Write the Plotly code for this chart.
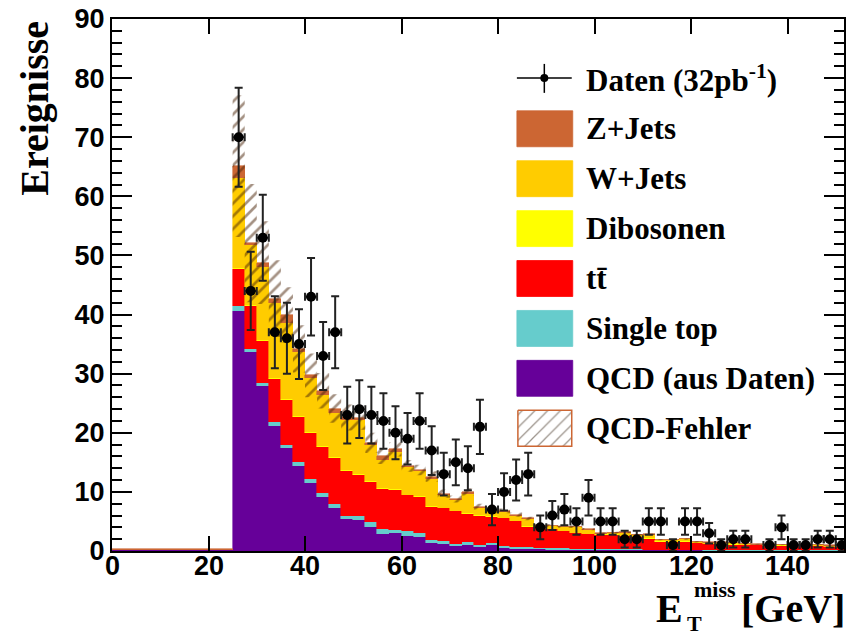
import numpy as np
import plotly.graph_objects as go

# ---------------- data ----------------
bin_width = 2.5
bin_edges = [0, 2.5, 5, 7.5, 10, 12.5, 15, 17.5, 20, 22.5,
             25, 27.5, 30, 32.5, 35, 37.5, 40, 42.5, 45, 47.5,
             50, 52.5, 55, 57.5, 60, 62.5, 65, 67.5, 70, 72.5,
             75, 77.5, 80, 82.5, 85, 87.5, 90, 92.5, 95, 97.5,
             100, 102.5, 105, 107.5, 110, 112.5, 115, 117.5, 120, 122.5,
             125, 127.5, 130, 132.5, 135, 137.5, 140, 142.5, 145, 147.5,
             150]
x_tick_values = [0, 20, 40, 60, 80, 100, 120, 140]

qcd = [0.15, 0.15, 0.15, 0.15, 0.15, 0.15, 0.15, 0.15, 0.15, 0.15,
       40.6, 33.7, 27.9, 21.2, 17.4, 14.4, 11.5, 9.1, 7.2, 5.4,
       5.3, 4.1, 2.9, 3.0, 2.6, 2.4, 1.35, 1.2, 0.85, 1.05,
       0.75, 0.95, 0.5, 0.35, 0.3, 0.3, 0.25, 0.25, 0.2, 0.2,
       0.2, 0.15, 0.15, 0.15, 0.12, 0.12, 0.1, 0.1, 0.1, 0.08,
       0.08, 0.08, 0.07, 0.07, 0.06, 0.06, 0.05, 0.05, 0.05, 0.04,
       0.04]
single_top = [0, 0, 0, 0, 0, 0, 0, 0, 0, 0,
              0.8, 0.5, 0.6, 0.6, 0.6, 0.6, 0.7, 0.7, 0.7, 0.6,
              0.6, 0.85, 0.8, 0.6, 0.7, 0.6, 0.5, 0.45, 0.35, 0.4,
              0.35, 0.35, 0.35, 0.35, 0.3, 0.25, 0.25, 0.2, 0.2, 0.2,
              0.15, 0.15, 0.15, 0.15, 0.13, 0.13, 0.12, 0.1, 0.1, 0.1,
              0.1, 0.08, 0.08, 0.07, 0.07, 0.06, 0.07, 0.06, 0.05, 0.06,
              0.05]
ttbar = [0, 0, 0, 0, 0, 0, 0, 0, 0, 0,
         6.35, 7.2, 7.0, 7.25, 7.5, 7.6, 7.8, 7.8, 7.8, 7.5,
         7.0, 6.75, 6.8, 6.7, 6.1, 6.1, 5.55, 5.55, 5.5, 4.85,
         4.8, 4.5, 4.65, 4.3, 3.5, 3.45, 3.2, 2.85, 2.6, 2.4,
         2.35, 2.4, 2.2, 2.0, 1.85, 1.35, 1.38, 1.4, 1.1, 1.02,
         1.02, 0.94, 0.85, 0.86, 0.77, 0.78, 0.68, 0.69, 0.7, 0.6,
         0.61]
dibosons = [0, 0, 0, 0, 0, 0, 0, 0, 0, 0,
            0.2, 0.2, 0.2, 0.2, 0.2, 0.2, 0.2, 0.2, 0.2, 0.2,
            0.2, 0.15, 0.15, 0.15, 0.15, 0.15, 0.15, 0.15, 0.15, 0.15,
            0.15, 0.1, 0.1, 0.1, 0.1, 0.1, 0.1, 0.1, 0.1, 0.1,
            0.1, 0.1, 0.1, 0.1, 0.1, 0.1, 0.05, 0.05, 0.05, 0.05,
            0.05, 0.05, 0.05, 0.05, 0.05, 0.05, 0.05, 0.05, 0.05, 0.05,
            0.05]
wjets = [0, 0, 0, 0, 0, 0, 0, 0, 0, 0,
         15.15, 10.1, 12.4, 12.75, 12.9, 10.9, 9.1, 8.6, 7.5, 8.4,
         9.0, 6.05, 4.75, 6.35, 4.65, 4.25, 4.65, 2.15, 1.75, 3.25,
         1.15, 0.8, 1.0, 0.9, 1.2, 0.1, 0.4, 0.6, 0.9, 0.7,
         0.15, 0.25, 0.5, 0.3, 0.55, 0.15, 0.2, 0.3, 0.15, 0.15,
         0.15, 0.15, 0.15, 0.05, 0.15, 0.05, 0.15, 0.25, 0.15, 0.15,
         0.05]
zjets = [0.15, 0.15, 0.15, 0.15, 0.15, 0.15, 0.15, 0.15, 0.15, 0.15,
         2.0, 0.4, 0.7, 0.7, 1.3, 0.5, 0.4, 0.7, 0.7, 0.5,
         0.4, 0.4, 0.6, 0.4, 0.2, 0.2, 0.4, 0.2, 0.2, 0.3,
         0.3, 0.2, 0.2, 0.15, 0.1, 0.1, 0.1, 0.1, 0.1, 0.1,
         0.05, 0.05, 0.05, 0.05, 0.05, 0.05, 0.05, 0.05, 0.05, 0.05,
         0.05, 0.05, 0.05, 0.05, 0.05, 0.05, 0.05, 0.05, 0.05, 0.05,
         0.05]
qcd_err = [0, 0, 0, 0, 0, 0, 0, 0, 0, 0,
           12, 10, 7, 6.5, 4.7, 4, 3.7, 3, 2.4, 2.2,
           2.0, 1.7, 1.3, 1.2, 1.0, 0.9, 0.9, 0.7, 0.6, 0.6,
           0.5, 0.5, 0.4, 0.35, 0.3, 0.25, 0.25, 0.2, 0.2, 0.2,
           0.15, 0.15, 0.15, 0.12, 0.12, 0.1, 0.1, 0.1, 0.1, 0.08,
           0.08, 0.08, 0.07, 0.07, 0.06, 0.06, 0.05, 0.05, 0.05, 0.04,
           0.04]

data_x = [26.25, 28.75, 31.25, 33.75, 36.25, 38.75, 41.25, 43.75, 46.25, 48.75,
          51.25, 53.75, 56.25, 58.75, 61.25, 63.75, 66.25, 68.75, 71.25, 73.75,
          76.25, 78.75, 81.25, 83.75, 86.25, 88.75, 91.25, 93.75, 96.25, 98.75,
          101.25, 103.75, 106.25, 108.75, 111.25, 113.75, 116.25, 118.75, 121.25, 123.75,
          126.25, 128.75, 131.25, 133.75, 136.25, 138.75, 141.25, 143.75, 146.25, 148.75,
          151.25]
data_counts = [70, 44, 53, 37, 36, 35, 43, 33, 37, 23,
               24, 23, 22, 20, 19, 22, 17, 13, 15, 14,
               21, 7, 10, 12, 13, 4, 6, 7, 5, 9,
               5, 5, 2, 2, 5, 5, 1, 5, 5, 3,
               1, 2, 2, None, 1, 4, 1, 1, 2, 2,
               1]

colors = {"QCD": "#660099", "Single top": "#66cccc", "tt": "#ff0000",
          "Dibosonen": "#ffff00", "W+Jets": "#ffcc00", "Z+Jets": "#cc6633"}

# ---------------- figure ----------------
edges = np.array(bin_edges, dtype=float)
centers = edges + bin_width / 2

fig = go.Figure()
stack = [(qcd, colors["QCD"]), (single_top, colors["Single top"]), (ttbar, colors["tt"]),
         (dibosons, colors["Dibosonen"]), (wjets, colors["W+Jets"]), (zjets, colors["Z+Jets"])]
for vals, col in stack:
    fig.add_trace(go.Bar(x=centers, y=vals, width=bin_width,
                         marker=dict(color=col, line=dict(width=0.6, color=col)),
                         hoverinfo="skip"))

total = (np.array(qcd) + np.array(single_top) + np.array(ttbar) + np.array(dibosons)
         + np.array(wjets) + np.array(zjets))
err = np.array(qcd_err)
start = 10
sx = list(edges[start:]) + [edges[-1] + bin_width]
up = list(total[start:] + err[start:]); up.append(up[-1])
lo = list(total[start:] - err[start:]); lo.append(lo[-1])
fig.add_trace(go.Scatter(x=sx, y=lo, mode="lines", line=dict(width=0, shape="hv"), hoverinfo="skip"))
fig.add_trace(go.Scatter(x=sx, y=up, mode="lines", line=dict(width=0, shape="hv"), fill="tonexty",
                         fillcolor="rgba(0,0,0,0)",
                         fillpattern=dict(shape="/", fgcolor="#4a2408", bgcolor="rgba(0,0,0,0)",
                                          size=9, solidity=0.3),
                         hoverinfo="skip"))

dc = np.array([np.nan if v is None else v for v in data_counts], dtype=float)
fig.add_trace(go.Scatter(x=data_x, y=dc, mode="markers",
                         marker=dict(color="black", size=10),
                         error_y=dict(type="data", array=np.sqrt(dc), thickness=2, width=4, color="#222222"),
                         error_x=dict(type="constant", value=bin_width / 2, thickness=2, width=4,
                                      color="#222222")))

# pixel -> paper helpers for the legend / titles
W, H = 850, 637
L, R, T, B = 112, 846, 18, 551
def PX(px):
    return (px - L) / (R - L)
def PY(py):
    return (B - py) / (B - T)

fig.add_trace(go.Scatter(x=[PX(519), PX(573), PX(573), PX(519), PX(519)],
                         y=[PY(410), PY(410), PY(446), PY(446), PY(410)],
                         xaxis="x2", yaxis="y2", mode="lines", fill="toself",
                         line=dict(color="#cc6633", width=1.5),
                         fillcolor="rgba(0,0,0,0)",
                         fillpattern=dict(shape="/", fgcolor="#3a2a1a", bgcolor="rgba(0,0,0,0)",
                                          size=9, solidity=0.14),
                         hoverinfo="skip"))

shapes = []
ann = []
font_leg = dict(family="Liberation Serif", size=31, color="black", weight="bold")
shapes.append(dict(type="line", xref="paper", yref="paper", x0=PX(518), x1=PX(573), y0=PY(77), y1=PY(77),
                   line=dict(color="black", width=1.5)))
shapes.append(dict(type="line", xref="paper", yref="paper", x0=PX(545.5), x1=PX(545.5), y0=PY(63), y1=PY(92),
                   line=dict(color="black", width=1.5)))
shapes.append(dict(type="circle", xref="paper", yref="paper", x0=PX(541.5), x1=PX(549.5), y0=PY(73), y1=PY(81),
                   fillcolor="black", line=dict(color="black", width=0)))
ann.append(dict(text="<b>Daten (32pb<sup>-1</sup>)</b>", x=PX(585), y=PY(78), xref="paper", yref="paper",
                xanchor="left", yanchor="middle", showarrow=False, font=font_leg))

boxes = [("Z+Jets", colors["Z+Jets"], 128), ("W+Jets", colors["W+Jets"], 178),
         ("Dibosonen", colors["Dibosonen"], 228), ("tt\u0304", colors["tt"], 278),
         ("Single top", colors["Single top"], 328), ("QCD (aus Daten)", colors["QCD"], 378)]
for name, col, cy in boxes:
    shapes.append(dict(type="rect", xref="paper", yref="paper", x0=PX(518), x1=PX(574),
                       y0=PY(cy + 18), y1=PY(cy - 18),
                       fillcolor=col, line=dict(width=0.8, color=col)))
    ann.append(dict(text="<b>" + name + "</b>", x=PX(585), y=PY(cy), xref="paper", yref="paper",
                    xanchor="left", yanchor="middle", showarrow=False, font=font_leg))
ann.append(dict(text="<b>QCD-Fehler</b>", x=PX(585), y=PY(428), xref="paper", yref="paper",
                xanchor="left", yanchor="middle", showarrow=False, font=font_leg))

# x tick labels (placed close to the axis, as in the original)
tickfont = dict(family="Liberation Sans", size=27, color="black", weight="bold")
for v in x_tick_values:
    ann.append(dict(text="<b>%d</b>" % v, x=v, xref="x", y=PY(566), yref="paper",
                    xanchor="center", yanchor="middle", showarrow=False, font=tickfont))

# axis titles
ann.append(dict(text="<b>Ereignisse</b>", x=PX(34), y=PY(18), xref="paper", yref="paper", textangle=-90,
                xanchor="center", yanchor="top", showarrow=False,
                font=dict(family="Liberation Serif", size=40, color="black", weight="bold")))
tfont = dict(family="Liberation Serif", size=40, color="black", weight="bold")
sfont = dict(family="Liberation Serif", size=22, color="black", weight="bold")
ann.append(dict(text="<b>E</b>", x=PX(687), y=PY(609), xref="paper", yref="paper", xanchor="right",
                yanchor="middle", showarrow=False, font=tfont))
ann.append(dict(text="<b>miss</b>", x=PX(694), y=PY(590), xref="paper", yref="paper", xanchor="left",
                yanchor="middle", showarrow=False, font=sfont))
ann.append(dict(text="<b>T</b>", x=PX(687), y=PY(624), xref="paper", yref="paper", xanchor="left",
                yanchor="middle", showarrow=False, font=sfont))
ann.append(dict(text="<b>[GeV]</b>", x=PX(849), y=PY(609), xref="paper", yref="paper", xanchor="right",
                yanchor="middle", showarrow=False, font=tfont))

fig.update_layout(
    width=W, height=H, margin=dict(l=L, r=W - R, t=T, b=H - B),
    plot_bgcolor="white", paper_bgcolor="white",
    barmode="stack", bargap=0, showlegend=False,
    shapes=shapes, annotations=ann,
    xaxis=dict(range=[0, 151.7], showline=True, linewidth=2, linecolor="black", mirror="ticks",
               ticks="inside", ticklen=15, tickwidth=2, tickcolor="black", dtick=20, tick0=0,
               showticklabels=False, showgrid=False, zeroline=False),
    yaxis=dict(range=[0, 90], showline=True, linewidth=2, linecolor="black", mirror="ticks",
               ticks="inside", ticklen=20, tickwidth=2, tickcolor="black", dtick=10, tick0=0,
               tickprefix="<b>", ticksuffix="</b>",
               minor=dict(ticks="inside", ticklen=10, tickwidth=1.5, tickcolor="black", dtick=2),
               tickfont=tickfont, showgrid=False, zeroline=False),
    xaxis2=dict(overlaying="x", range=[0, 1], visible=False, anchor="y2"),
    yaxis2=dict(overlaying="y", range=[0, 1], visible=False, anchor="x2"),
)

fig.write_html("out.html")
